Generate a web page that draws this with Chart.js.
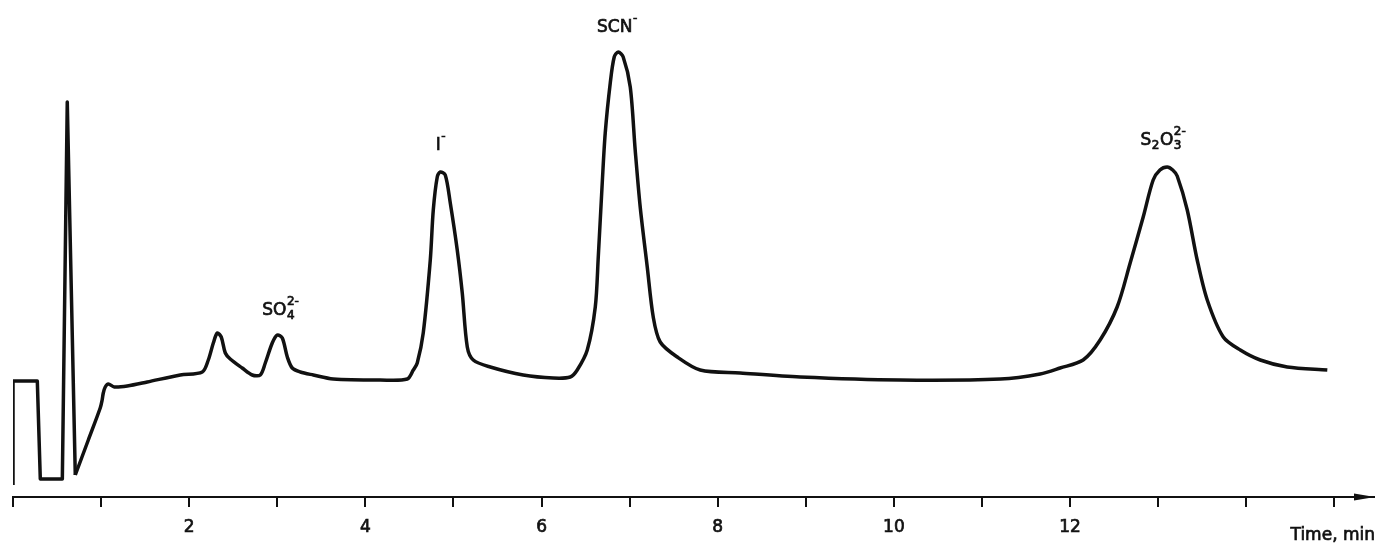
<!DOCTYPE html>
<html>
<head>
<meta charset="utf-8">
<script src="https://cdn.jsdelivr.net/npm/chart.js@4"></script>
<style>
  html, body { margin: 0; padding: 0; background: #fff; }
  #wrap { width: 1380px; height: 554px; }
</style>
</head>
<body>
<div id="wrap"><canvas id="chrom"></canvas></div>
<script>
// retention time, min
const startTimes = [0.0, 0.0, 0.276, 0.31, 0.56, 0.616, 0.707];
const startSignal = [-105, -1, -1, -99, -99, 278, -95];

const times = [
  0.707, 0.855, 0.99, 1.012, 1.025, 1.047, 1.082, 1.15, 1.297, 1.524, 1.899, 2.149,
  2.217, 2.274, 2.319, 2.364, 2.41, 2.466, 2.602, 2.716, 2.807, 2.864, 2.943, 3.0,
  3.057, 3.114, 3.17, 3.261, 3.409, 3.636, 4.169, 4.476, 4.544, 4.589, 4.657, 4.737,
  4.771, 4.816, 4.85, 4.907, 4.964, 5.043, 5.1, 5.157, 5.225, 5.418, 5.792, 6.133,
  6.326, 6.405, 6.519, 6.61, 6.644, 6.689, 6.723, 6.78, 6.825, 6.87, 6.927, 7.007,
  7.063, 7.12, 7.2, 7.268, 7.347, 7.54, 7.801, 8.255, 8.936, 10.07, 11.21, 11.66,
  11.887, 12.148, 12.341, 12.534, 12.682, 12.83, 12.943, 13.02, 13.102, 13.165, 13.216, 13.33,
  13.443, 13.557, 13.739, 13.932, 14.159, 14.465, 14.92
];
const signal = [
  -95, -60, -28, -20, -13, -7, -4, -7, -6, -2, 5, 8,
  20, 37, 47, 43, 27, 21, 12, 5, 5, 17, 37, 45,
  42, 23, 12, 8, 5, 1, 0, 1, 10, 17, 47, 120,
  170, 203, 208, 205, 177, 130, 87, 33, 20, 13, 5, 2,
  3, 10, 30, 73, 123, 197, 247, 297, 323, 328, 323, 293,
  230, 173, 113, 63, 38, 23, 10, 7, 3, 0, 1, 6,
  12, 20, 40, 73, 117, 163, 200, 210, 213, 210, 204, 170,
  120, 80, 43, 30, 20, 13, 10
];

// peak labels: chunks of base text with optional subscript / superscript
const peakLabels = [
  [{ t: 'SO', sub: '4', sup: '2-' }],
  [{ t: 'I', sup: '-' }],
  [{ t: 'SCN', sup: '-' }],
  [{ t: 'S', sub: '2' }, { t: 'O', sub: '3', sup: '2-' }]
];
const peakLabelTime = [2.83, 4.8, 6.63, 12.8];
const peakLabelSignal = [65, 230, 348, 235];

const xTickLabels = [2, 4, 6, 8, 10, 12];

const ink = '#111';

function heavyText(ctx, txt, x, y) {
  ctx.fillText(txt, x, y);
  ctx.strokeText(txt, x, y);
}

const extras = {
  id: 'extras',
  afterDraw(chart) {
    const { ctx, chartArea, scales } = chart;
    const x = scales.x, y = scales.y;
    ctx.save();
    ctx.fillStyle = ink;
    ctx.strokeStyle = ink;
    ctx.lineWidth = 0.7;

    // arrow head at the end of the time axis
    const ax = chartArea.right, ay = chartArea.bottom;
    ctx.beginPath();
    ctx.moveTo(ax + 1, ay);
    ctx.lineTo(ax - 20, ay - 3.5);
    ctx.lineTo(ax - 20, ay + 3.5);
    ctx.closePath();
    ctx.fill();

    // axis title
    ctx.font = '17px "DejaVu Sans"';
    ctx.textAlign = 'right';
    ctx.textBaseline = 'alphabetic';
    heavyText(ctx, 'Time, min', ax + 1, ay + 43);

    // peak names
    ctx.textAlign = 'left';
    peakLabels.forEach((chunks, i) => {
      let px = x.getPixelForValue(peakLabelTime[i]);
      const py = y.getPixelForValue(peakLabelSignal[i]);
      chunks.forEach((c) => {
        ctx.font = '17px "DejaVu Sans"';
        heavyText(ctx, c.t, px, py);
        px += ctx.measureText(c.t).width + 0.5;
        ctx.font = '12px "DejaVu Sans"';
        let w = 0;
        if (c.sub) { heavyText(ctx, c.sub, px, py + 4); w = ctx.measureText(c.sub).width; }
        if (c.sup) { heavyText(ctx, c.sup, px, py - 10); w = Math.max(w, ctx.measureText(c.sup).width); }
        px += w + 0.5;
      });
    });
    ctx.restore();
  }
};

new Chart(document.getElementById('chrom'), {
  type: 'line',
  data: {
    datasets: [
      {
        data: startTimes.map((t, i) => ({ x: t, y: startSignal[i] })),
        borderColor: ink,
        borderWidth: 3.5,
        pointRadius: 0,
        tension: 0,
        borderJoinStyle: 'round'
      },
      {
        data: times.map((t, i) => ({ x: t, y: signal[i] })),
        borderColor: ink,
        borderWidth: 3.5,
        pointRadius: 0,
        tension: 0.3,
        borderJoinStyle: 'round'
      }
    ]
  },
  options: {
    responsive: true,
    maintainAspectRatio: false,
    animation: false,
    layout: { padding: { left: 13, right: 6, top: 0, bottom: 0 } },
    plugins: { legend: { display: false }, tooltip: { enabled: false } },
    scales: {
      x: {
        type: 'linear',
        min: 0,
        max: 15.45,
        afterBuildTicks: (scale) => {
          scale.ticks = [];
          for (let v = 0; v <= 15; v++) scale.ticks.push({ value: v });
        },
        afterFit: (scale) => { scale.height = 57; },
        grid: {
          drawOnChartArea: false,
          drawTicks: true,
          tickLength: 10,
          color: ink,
          lineWidth: 2
        },
        border: { display: true, color: ink, width: 2 },
        ticks: {
          padding: 10,
          color: ink,
          textStrokeColor: ink,
          textStrokeWidth: 0.7,
          font: { family: 'DejaVu Sans', size: 17 },
          maxRotation: 0,
          autoSkip: false,
          callback: (v) => (xTickLabels.includes(v) ? String(v) : '')
        }
      },
      y: {
        display: false,
        min: -117,
        max: 380
      }
    }
  },
  plugins: [extras]
});
</script>
</body>
</html>
